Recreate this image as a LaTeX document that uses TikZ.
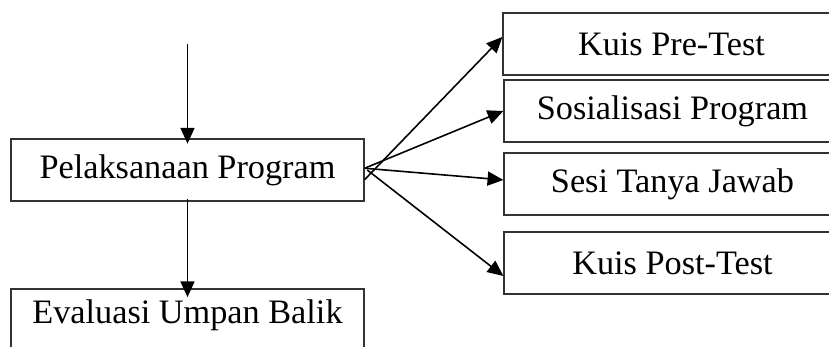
\documentclass[tikz,border=0pt]{standalone}
\usepackage{fontspec}
\setmainfont{Liberation Serif}
\usetikzlibrary{arrows.meta}
\tikzset{
  box/.style={draw=black!80, line width=0.7pt, minimum height=62*0.02cm, inner sep=0pt, font=\fontsize{19.5}{22}\selectfont},
  leftbox/.style={box, minimum width=353*0.02cm},
  rightbox/.style={box, minimum width=337*0.02cm},
  arr/.style={-{Triangle[length=9pt,width=8pt]}, line width=0.9pt}
}
\begin{document}
\begin{tikzpicture}[x=0.02cm, y=-0.02cm]
        \useasboundingbox (0,0) rectangle (829,347);
        \clip (0,0) rectangle (829,347);
        \node[leftbox] (pelaksanaan) at (187.5,170) {Pelaksanaan Program};
        \node[leftbox] (evaluasi) at (187.5,320) {\raisebox{3.2mm}{Evaluasi Umpan Balik}};
        \node[rightbox] (pretest) at (671.5,44) {Kuis Pre-Test};
        \node[rightbox] (sosialisasi) at (672.5,111) {Sosialisasi Program};
        \node[rightbox] (tanyajawab) at (672.5,184) {Sesi Tanya Jawab};
        \node[rightbox] (posttest) at (672.5,263) {Kuis Post-Test};
        \coordinate (masuk) at (187.5,44);
        \draw[arr] (masuk) -- ([yshift=-3pt]pelaksanaan.north);
        \draw[arr] ([yshift=1.5pt]pelaksanaan.south) -- ([yshift=-5pt]evaluasi.north);
        \draw[arr] ([yshift=-5.5pt]pelaksanaan.east) -- ([yshift=4pt]pretest.west);
        \draw[arr] ([yshift=1pt]pelaksanaan.east) -- (sosialisasi.west);
        \draw[arr] ([yshift=1pt]pelaksanaan.east) -- ([yshift=2.3pt]tanyajawab.west);
        \draw[arr] ([xshift=1.5pt]pelaksanaan.east) -- ([yshift=-7.4pt]posttest.west);
\end{tikzpicture}
\end{document}
